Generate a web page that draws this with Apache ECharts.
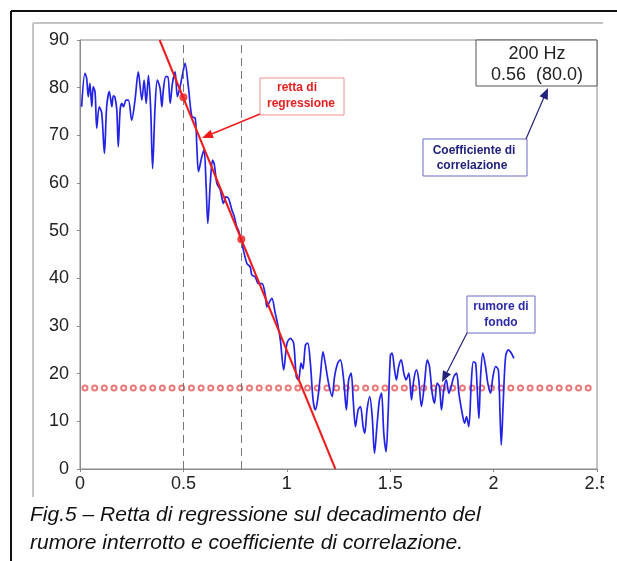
<!DOCTYPE html>
<html><head><meta charset="utf-8">
<script src="https://cdn.jsdelivr.net/npm/echarts@6/dist/echarts.min.js"></script>
<style>html,body{margin:0;padding:0;background:#fff}#c{width:617px;height:561px}</style>
</head><body><div id="c"></div>
<script>
// Decay curve (time s, level dB)
var decayX = [0.008,0.024,0.032,0.040,0.048,0.057,0.064,0.073,0.081,0.093,0.105,0.118,0.129,0.142,0.154,0.161,0.169,0.178,0.185,0.194,0.202,0.210,0.223,0.234,0.250,0.266,0.282,0.299,0.310,0.320,0.331,0.342,0.351,0.363,0.374,0.387,0.396,0.403,0.415,0.425,0.436,0.447,0.460,0.471,0.484,0.495,0.508,0.524,0.541,0.557,0.565,0.573,0.589,0.600,0.610,0.618,0.630,0.641,0.649,0.662,0.678,0.694,0.706,0.718,0.735,0.746,0.758,0.767,0.783,0.807,0.823,0.831,0.847,0.863,0.880,0.896,0.904,0.917,0.928,0.944,0.955,0.969,0.985,1.001,1.017,1.033,1.046,1.057,1.069,1.078,1.090,1.101,1.114,1.127,1.138,1.149,1.162,1.175,1.186,1.202,1.219,1.231,1.246,1.259,1.275,1.288,1.299,1.311,1.321,1.332,1.345,1.356,1.369,1.377,1.388,1.401,1.413,1.424,1.437,1.448,1.458,1.469,1.480,1.490,1.501,1.509,1.521,1.530,1.541,1.553,1.566,1.577,1.590,1.603,1.614,1.627,1.638,1.651,1.666,1.679,1.690,1.703,1.714,1.727,1.738,1.748,1.759,1.771,1.784,1.795,1.808,1.821,1.832,1.848,1.860,1.869,1.880,1.892,1.902,1.913,1.921,1.929,1.937,1.948,1.961,1.972,1.985,1.997,2.010,2.023,2.031,2.037,2.047,2.058,2.071,2.086,2.098];
var decayY = [76.0,83.0,82,78.1,80.9,76,80.2,79,71.5,76,74.7,66.2,76,79.2,76,78.3,78,75.3,67.6,75.3,76.7,76,77.4,77.4,73.2,77.4,83.3,77.4,81.6,76.7,82.6,75.3,63,76,81.6,79.9,76,79.5,82.3,82.3,76.7,80.9,83.3,78.1,80.2,82.6,85.1,80.2,73.9,73.6,67.6,62.4,65.5,66.9,59.2,51.5,60,64.8,64,59.9,58.6,55.7,57.1,56.8,54.3,53,50.8,50,47.3,43.1,42.4,40.7,40.3,38.9,38.9,36.5,34.0,35.1,35.8,32.7,30.6,27,20.8,26.4,27.4,26.4,19.4,18.7,22.2,21,26.0,26.4,22.2,14.5,12.4,14.5,19.4,24.6,22.2,18.0,15.2,19.4,22.2,22.9,18.7,12.4,18.7,20.1,14.5,8.9,12.4,13.1,8.9,7.5,12.4,15.2,11.0,3.3,9.6,14.5,15.9,7.5,3.6,11.7,23.9,24.3,20.8,18.7,21.5,22.9,20.1,18.7,20.1,14.5,18.7,20.8,18.7,13.1,18.0,22.9,21.5,15.9,13.8,18.0,17.3,12.4,16.6,18.7,15.9,17.3,19.4,20.1,15.9,11.7,9.6,11.0,8.9,18.0,22.5,22.2,16.6,10.6,19.4,24.3,21.5,18.0,15.9,19.4,21.5,20.8,11.7,5.0,14.5,23.6,25.0,24.3,23.2];
// Regression line end points and the two evaluation points
var regX = [0.385, 1.235];
var regY = [90, 0];
var evalX = [0.5, 0.78];
var evalY = [78.0, 48.2];
// Background noise level
var noiseLevel = 17;
var noiseMarkStart = 0.024, noiseMarkStep = 0.0468, noiseMarkCount = 53;
// Axes
var xTicks = [0, 0.5, 1, 1.5, 2, 2.5];
var yTicks = [0, 10, 20, 30, 40, 50, 60, 70, 80, 90];
var boxLines = ['200 Hz', '0.56  (80.0)'];
var caption = ['Fig.5 \u2013 Retta di regressione sul decadimento del', 'rumore interrotto e coefficiente di correlazione.'];

var FONT = 'Liberation Sans, Arial, sans-serif';
var decay = decayX.map(function(x, i){ return [x, decayY[i]]; });
var reg = regX.map(function(x, i){ return [x, regY[i]]; });
var evalPts = evalX.map(function(x, i){ return [x, evalY[i]]; });
var noiseMarks = [];
for (var i = 0; i < noiseMarkCount; i++) noiseMarks.push([noiseMarkStart + i * noiseMarkStep, noiseLevel]);

var chart = echarts.init(document.getElementById('c'), null, {renderer: 'canvas'});
var option = {
  animation: false,
  backgroundColor: '#fff',
  grid: {left: 80, right: 20, top: 40, bottom: 92, show: true, borderColor: '#8a8a8a', borderWidth: 1},
  xAxis: {
    type: 'value', min: xTicks[0], max: xTicks[xTicks.length-1], interval: 0.5,
    axisLine: {show: true, onZero: false, lineStyle: {color: '#8a8a8a', width: 1}},
    axisTick: {show: true, length: 3, lineStyle: {color: '#8a8a8a'}},
    axisLabel: {color: '#222', fontFamily: FONT, fontSize: 18, margin: 6, formatter: function(v){ return String(v); }},
    splitLine: {show: false}
  },
  yAxis: {
    type: 'value', min: yTicks[0], max: yTicks[yTicks.length-1], interval: 10,
    axisLine: {show: true, onZero: false, lineStyle: {color: '#8a8a8a', width: 1}},
    axisTick: {show: true, length: 3, lineStyle: {color: '#8a8a8a'}},
    axisLabel: {color: '#222', fontFamily: FONT, fontSize: 18, margin: 11},
    splitLine: {show: false}
  },
  series: [
    {type: 'line', data: noiseMarks, symbol: 'emptyCircle', symbolSize: 5, showSymbol: true,
     lineStyle: {width: 0, opacity: 0}, itemStyle: {color: '#e87a7a', borderWidth: 1}, z: 2, silent: true},
    {type: 'line', data: decay, symbol: 'none', smooth: 0.3,
     lineStyle: {color: '#2323e6', width: 1.7}, z: 3,
     markLine: {silent: true, symbol: 'none', label: {show: false},
       lineStyle: {color: '#777', type: [8, 5], width: 1},
       data: evalX.map(function(x){ return {xAxis: x}; })}},
    {type: 'line', data: reg, symbol: 'none', lineStyle: {color: '#ee1c1c', width: 2}, z: 4},
    {type: 'scatter', data: evalPts, symbol: 'circle', symbolSize: 8, itemStyle: {color: '#ee1c1c'}, z: 5}
  ]
};
chart.setOption(option);

function px(x, y){ return chart.convertToPixel({gridIndex: 0}, [x, y]); }
function arrow(x1, y1, x2, y2, color, w){
  var ang = Math.atan2(y2 - y1, x2 - x1), L = 11, W = 4.5;
  var bx = x2 - L * Math.cos(ang), by = y2 - L * Math.sin(ang);
  var nx = -Math.sin(ang), ny = Math.cos(ang);
  return [
    {type: 'line', shape: {x1: x1, y1: y1, x2: bx, y2: by}, style: {stroke: color, lineWidth: w}, z: 20},
    {type: 'polygon', shape: {points: [[x2, y2], [bx + nx * W, by + ny * W], [bx - nx * W, by - ny * W]]}, style: {fill: color}, z: 20}
  ];
}
var pTop = px(xTicks[xTicks.length-1], yTicks[yTicks.length-1]);
var g = [];
// outer frames
g.push({type: 'line', shape: {x1: 11, y1: 11, x2: 617, y2: 11}, style: {stroke: '#111', lineWidth: 2}, z: 30});
g.push({type: 'line', shape: {x1: 11, y1: 11, x2: 11, y2: 561}, style: {stroke: '#111', lineWidth: 2}, z: 30});
g.push({type: 'line', shape: {x1: 33, y1: 23, x2: 603, y2: 23}, style: {stroke: '#c4c4c4', lineWidth: 2}, z: 30});
g.push({type: 'line', shape: {x1: 33, y1: 23, x2: 33, y2: 497}, style: {stroke: '#c4c4c4', lineWidth: 2}, z: 30});
g.push({type: 'rect', shape: {x: 604, y: 24, width: 14, height: 540}, style: {fill: '#fff'}, z: 25});
// 200 Hz box
g.push({type: 'rect', shape: {x: 476, y: pTop[1], width: pTop[0] - 476, height: 46}, style: {fill: '#fff', stroke: '#555', lineWidth: 1}, z: 10});
g.push({type: 'text', style: {text: boxLines[0], x: 537, y: pTop[1] + 14, align: 'center', verticalAlign: 'middle', font: '18px ' + FONT, fill: '#222'}, z: 11});
g.push({type: 'text', style: {text: boxLines[1], x: 537, y: pTop[1] + 35, align: 'center', verticalAlign: 'middle', font: '18px ' + FONT, fill: '#222'}, z: 11});
// retta di regressione
g.push({type: 'rect', shape: {x: 260, y: 78, width: 84, height: 37}, style: {fill: '#fff', stroke: '#f09090', lineWidth: 1}, z: 10});
g.push({type: 'text', style: {text: 'retta di', x: 297, y: 88, align: 'center', verticalAlign: 'middle', font: 'bold 12px ' + FONT, fill: '#e61e1e'}, z: 11});
g.push({type: 'text', style: {text: 'regressione', x: 301, y: 104, align: 'center', verticalAlign: 'middle', font: 'bold 12px ' + FONT, fill: '#e61e1e'}, z: 11});
g = g.concat(arrow(260, 114, 202, 138, '#ee1c1c', 1.5));
// Coefficiente di correlazione
g.push({type: 'rect', shape: {x: 423, y: 139, width: 104, height: 37}, style: {fill: '#fff', stroke: '#6a6ac8', lineWidth: 1}, z: 10});
g.push({type: 'text', style: {text: 'Coefficiente di', x: 474, y: 151, align: 'center', verticalAlign: 'middle', font: 'bold 12px ' + FONT, fill: '#22227a'}, z: 11});
g.push({type: 'text', style: {text: 'correlazione', x: 472, y: 166, align: 'center', verticalAlign: 'middle', font: 'bold 12px ' + FONT, fill: '#22227a'}, z: 11});
g = g.concat(arrow(526, 139, 548, 88, '#22227a', 1.2));
// rumore di fondo
g.push({type: 'rect', shape: {x: 467, y: 296, width: 68, height: 37}, style: {fill: '#fff', stroke: '#6a6ac8', lineWidth: 1}, z: 10});
g.push({type: 'text', style: {text: 'rumore di', x: 501, y: 307, align: 'center', verticalAlign: 'middle', font: 'bold 12px ' + FONT, fill: '#2a2aa8'}, z: 11});
g.push({type: 'text', style: {text: 'fondo', x: 501, y: 323, align: 'center', verticalAlign: 'middle', font: 'bold 12px ' + FONT, fill: '#2a2aa8'}, z: 11});
g = g.concat(arrow(467, 333, 442, 382, '#22227a', 1.2));
// caption
g.push({type: 'text', style: {text: caption[0], x: 30, y: 515, verticalAlign: 'middle', font: 'italic 21px ' + FONT, fill: '#111'}, z: 11});
g.push({type: 'text', style: {text: caption[1], x: 30, y: 543, verticalAlign: 'middle', font: 'italic 21px ' + FONT, fill: '#111'}, z: 11});
chart.setOption({graphic: {elements: g}});
</script>
</body></html>
